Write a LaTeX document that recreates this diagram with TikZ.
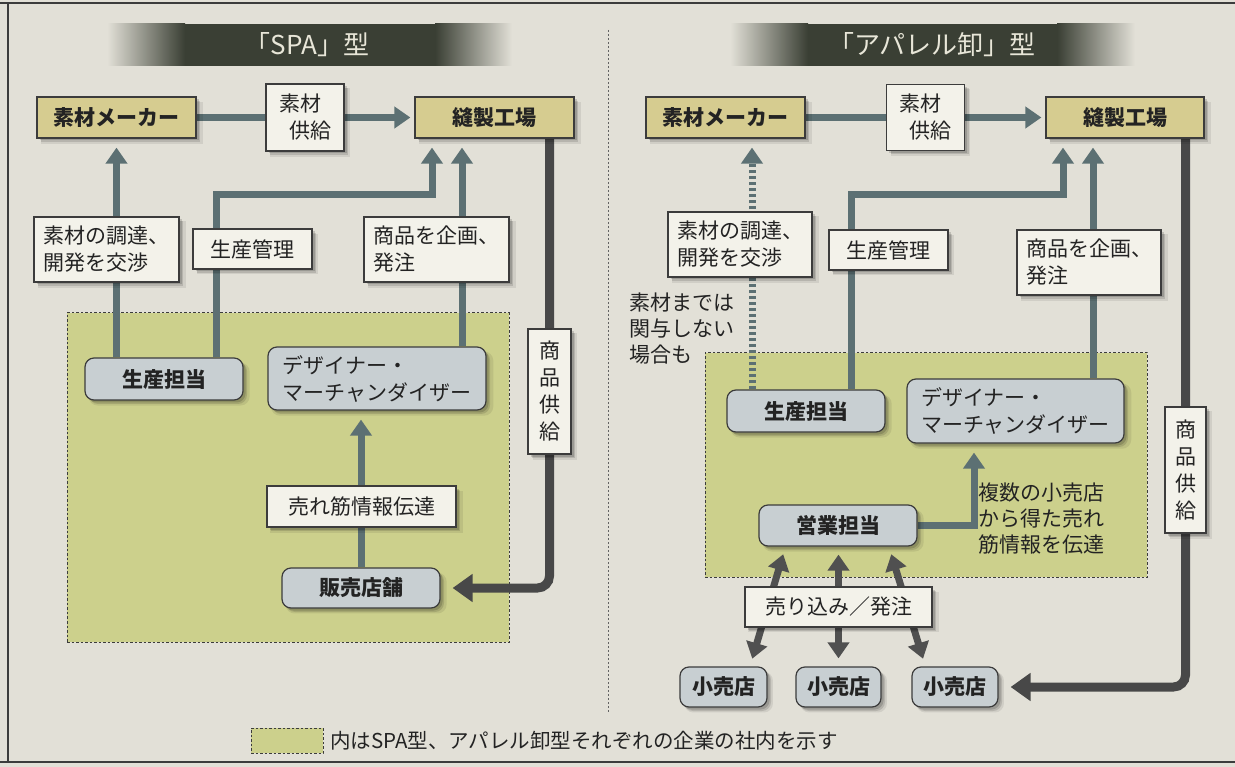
\documentclass[tikz,border=0pt]{standalone}
\usepackage{fontspec}
\setmainfont{Noto Sans CJK JP}
\usetikzlibrary{arrows.meta,shadows,calc}
\definecolor{cPaper}{RGB}{226,224,215}
\definecolor{cTan}{RGB}{214,204,144}
\definecolor{cWhite}{RGB}{243,242,234}
\definecolor{cBlue}{RGB}{200,207,210}
\definecolor{cZone}{RGB}{204,208,140}
\definecolor{cConn}{RGB}{92,112,115}
\definecolor{cThk}{RGB}{72,72,72}
\definecolor{cDbl}{RGB}{80,80,80}
\definecolor{cHdr}{RGB}{58,63,52}
\definecolor{cHtxt}{RGB}{232,230,216}
\definecolor{cFrame}{RGB}{60,60,60}
\definecolor{cText}{RGB}{35,35,35}
\pgfdeclarelayer{back}\pgfdeclarelayer{mid}\pgfsetlayers{back,mid,main}
\begin{document}
\begin{tikzpicture}[x=1pt,y=-1pt,
  shadowed/.style={
    drop shadow={shadow xshift=5pt,shadow yshift=-5pt,fill=black,opacity=0.08,shadow scale=1.02},
    drop shadow={shadow xshift=4pt,shadow yshift=-4pt,fill=black,opacity=0.12},
    drop shadow={shadow xshift=2.5pt,shadow yshift=-2.5pt,fill=black,opacity=0.15}},
  tanbox/.style={shadowed,draw=cFrame,line width=1.2pt,fill=cTan,inner sep=0pt,text=cText,font=\fontsize{21}{26}\selectfont\bfseries},
  wbox/.style={shadowed,draw=cFrame,line width=1.2pt,fill=cWhite,inner sep=0pt,align=left,text=cText,font=\fontsize{21}{27}\selectfont},
  rbox/.style={shadowed,draw=cFrame,line width=1.2pt,fill=cBlue,rounded corners=9pt,inner sep=0pt,align=left,text=cText,font=\fontsize{21}{27}\selectfont\bfseries},
  rboxn/.style={rbox,font=\fontsize{21}{27}\selectfont},
  note/.style={inner sep=0pt,align=left,text=cText,font=\fontsize{21}{26}\selectfont},
  htext/.style={inner sep=0pt,text=cHtxt,font=\fontsize{26}{30}\selectfont},
  zone/.style={fill=cZone,draw=cFrame,line width=1pt,dash pattern=on 2.5pt off 2pt},
  connA/.style={draw=cConn,line width=7pt,-{Triangle[width=21pt,length=16pt]},shorten >=9pt},
  connD/.style={connA,dash pattern=on 3.5pt off 2.5pt},
  thk/.style={draw=cThk,line width=9pt,rounded corners=12pt,-{Triangle[width=27pt,length=20pt]},shorten >=12pt},
  dbl/.style={draw=cDbl,line width=7pt,{Triangle[width=21pt,length=16pt]}-{Triangle[width=21pt,length=16pt]},shorten >=8pt,shorten <=8pt}
]
\useasboundingbox (0,0) rectangle (1235,767);
\begin{pgfonlayer}{back}
\fill[cPaper] (0,0) rectangle (1235,767);
\draw[cFrame,line width=1.6pt] (0,3) -- (1235,3);
\draw[cFrame,line width=1.6pt] (8,3) -- (8,762);
\draw[cFrame,line width=1.6pt] (0,762) -- (1235,762);
\draw[cFrame!80,line width=1pt,dash pattern=on 2pt off 2pt] (608,30) -- (608,713);
% headers
\shade[left color=cPaper,right color=cHdr] (107,24) rectangle (185,66);
\fill[cHdr] (184.5,24) rectangle (435.5,66);
\shade[left color=cHdr,right color=cPaper] (435,24) rectangle (512,66);
\shade[left color=cPaper,right color=cHdr] (730,24) rectangle (808,66);
\fill[cHdr] (807.5,24) rectangle (1057.5,66);
\shade[left color=cHdr,right color=cPaper] (1057,24) rectangle (1135,66);
% zones
\node[zone,minimum width=442,minimum height=329,inner sep=0pt] (Lzone) at (288,477.5) {};
\node[zone,minimum width=442,minimum height=224,inner sep=0pt] (Rzone) at (926,465) {};
\node[zone,minimum width=72,minimum height=25,inner sep=0pt] (legbox) at (287,740.5) {};
\end{pgfonlayer}

% header texts
\node[htext] (Lh) at (307,45) {「SPA」型};
\node[htext] (Rh) at (932,45) {「アパレル卸」型};

% ---------------- left panel ----------------
\node[tanbox,minimum width=159,minimum height=41] (LsM) at (116.5,117.5) {素材メーカー};
\node[wbox,minimum width=78,minimum height=67] (Lkyo) at (305,117.5) {素材\\\hspace{10pt}供給};
\node[tanbox,minimum width=159,minimum height=41] (Lhou) at (494.5,117.5) {縫製工場};
\node[wbox,minimum width=145,minimum height=65] (Lcho) at (106.5,249.5) {素材の調達、\\開発を交渉};
\node[wbox,minimum width=119,minimum height=40] (Lkan) at (252.5,249) {生産管理};
\node[wbox,minimum width=145,minimum height=65] (Lkik) at (436.5,249.5) {商品を企画、\\発注};
\node[rbox,minimum width=158,minimum height=42] (Lsei) at (164,379) {生産担当};
\node[rboxn,minimum width=218,minimum height=63] (Ldes) at (377,378.5) {デザイナー・\\マーチャンダイザー};
\node[wbox,minimum width=43,minimum height=125,align=center,font=\fontsize{21}{27}\selectfont] (Lkyu) at (549.5,391.5) {商\\品\\供\\給};
\node[wbox,minimum width=189,minimum height=41] (Lure) at (361.5,506.5) {売れ筋情報伝達};
\node[rbox,minimum width=158,minimum height=40] (Lhan) at (361,588) {販売店舗};

\coordinate (Lp1) at (216,195);
\coordinate (Lp2) at (432,195);
\coordinate (Lq) at (462,300);

\begin{pgfonlayer}{mid}
\draw[connA,shorten >=4pt] (LsM.east) -- (Lhou.west);
\draw[connA] (Lsei.north -| LsM.south) -- (LsM.south);
\draw[connA] (Lsei.north -| Lp1) -- (Lp1) -- (Lp2) -- (Lhou.south -| Lp2);
\draw[connA] (Ldes.north -| Lq) -- (Lhou.south -| Lq);
\draw[connA] (Lhan.north) -- (Ldes.south -| Lhan.north);
\draw[thk] (Lhou.south -| Lkyu.center) |- (Lhan.east);
\end{pgfonlayer}

% ---------------- right panel ----------------
\node[tanbox,minimum width=159,minimum height=41] (RsM) at (725.5,117.5) {素材メーカー};
\node[wbox,minimum width=78,minimum height=66] (Rkyo) at (925.5,117.5) {素材\\\hspace{10pt}供給};
\node[tanbox,minimum width=158,minimum height=41] (Rhou) at (1125,117.5) {縫製工場};
\node[wbox,minimum width=144,minimum height=65] (Rcho) at (740,244.5) {素材の調達、\\開発を交渉};
\node[wbox,minimum width=119,minimum height=40] (Rkan) at (888.5,250) {生産管理};
\node[wbox,minimum width=144,minimum height=65] (Rkik) at (1089,262.5) {商品を企画、\\発注};
\node[note,anchor=west] (Rnt) at (629,329) {素材までは\\関与しない\\場合も};
\node[rbox,minimum width=158,minimum height=42] (Rsei) at (806,411) {生産担当};
\node[rboxn,minimum width=217,minimum height=64] (Rdes) at (1015.5,411) {デザイナー・\\マーチャンダイザー};
\node[wbox,minimum width=41,minimum height=126,align=center,font=\fontsize{21}{27}\selectfont] (Rkyu) at (1185.5,470) {商\\品\\供\\給};
\node[rbox,minimum width=158,minimum height=41] (Reig) at (838,525.5) {営業担当};
\node[note,anchor=west] (Rnt2) at (978,519) {複数の小売店\\から得た売れ\\筋情報を伝達};
\node[wbox,minimum width=187,minimum height=40] (Ruri) at (838.5,607) {売り込み／発注};
\node[rbox,minimum width=87,minimum height=40] (Rk1) at (723.5,687) {小売店};
\node[rbox,minimum width=85,minimum height=40] (Rk2) at (838.5,687) {小売店};
\node[rbox,minimum width=86,minimum height=40] (Rk3) at (955,687) {小売店};

\coordinate (Rd) at (752,300);
\coordinate (Rp1) at (851,195);
\coordinate (Rp2) at (1063,195);
\coordinate (Rq) at (1093,300);
\coordinate (Rr) at (974,525.5);

\begin{pgfonlayer}{mid}
\draw[connA,shorten >=4pt] (RsM.east) -- (Rhou.west);
\draw[connD] (Rsei.north -| Rd) -- (RsM.south -| Rd);
\draw[connA] (Rsei.north -| Rp1) -- (Rp1) -- (Rp2) -- (Rhou.south -| Rp2);
\draw[connA] (Rdes.north -| Rq) -- (Rhou.south -| Rq);
\draw[connA] (Reig.east) -- (Rr) -- (Rdes.south -| Rr);
\draw[dbl] ($(Rk1.north west)!0.8!(Rk1.north east)$) -- ($(Reig.south west)!0.17!(Reig.south east)$);
\draw[dbl] (Rk2.north) -- (Reig.south -| Rk2.north);
\draw[dbl] ($(Rk3.north west)!0.16!(Rk3.north east)$) -- ($(Reig.south west)!0.82!(Reig.south east)$);
\draw[thk] (Rhou.south -| Rkyu.center) |- (Rk3.east);
\end{pgfonlayer}

% legend
\node[anchor=west,inner sep=0pt,text=cText,font=\fontsize{20.5}{24}\selectfont] (leg) at (330,740.5) {内はSPA型、アパレル卸型それぞれの企業の社内を示す};
\end{tikzpicture}
\end{document}
